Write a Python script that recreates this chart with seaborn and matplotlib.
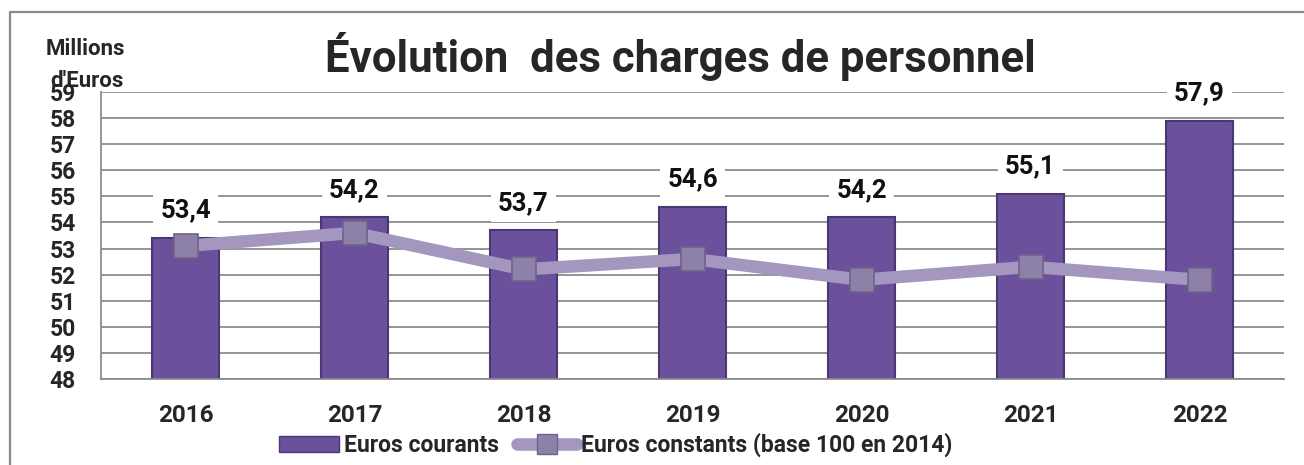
import numpy as np
import pandas as pd
import matplotlib
matplotlib.use("Agg")
import matplotlib.pyplot as plt
from matplotlib.lines import Line2D
from matplotlib.patches import Patch
import seaborn as sns

# data
years = ["2016", "2017", "2018", "2019", "2020", "2021", "2022"]
euros_courants = [53.4, 54.2, 53.7, 54.6, 54.2, 55.1, 57.9]
euros_constants = [53.1, 53.6, 52.2, 52.6, 51.8, 52.3, 51.8]
y_ticks = list(range(48, 60))

bar_color = "#6b509c"
bar_edge = "#4b3873"
line_color = "#a396bf"
marker_color = "#8d81a9"
grid_color = "#8c8c8c"

sns.set_theme(style="white")
plt.rcParams["font.family"] = ["Roboto", "DejaVu Sans"]
plt.rcParams["font.weight"] = "bold"

df = pd.DataFrame({"year": years, "courants": euros_courants,
                   "constants": euros_constants})

fig = plt.figure(figsize=(13.04, 4.65), dpi=100)
ax = fig.add_axes([101 / 1304, 1 - 379 / 465, 1183 / 1304, 287 / 465])

# bars
sns.barplot(data=df, x="year", y="courants", color=bar_color, width=0.4,
            saturation=1, edgecolor=bar_edge, linewidth=1.5, ax=ax, zorder=2)

# line with square markers
sns.pointplot(data=df, x="year", y="constants", color=line_color,
              markers="s", linestyles="-", linewidth=9, markersize=17,
              markerfacecolor=marker_color, markeredgecolor="#6e648a",
              markeredgewidth=1.2, ax=ax, zorder=3)

ax.set_ylim(48, 59)
ax.set_yticks(y_ticks)
ax.set_yticklabels([str(t) for t in y_ticks], fontsize=16.5, fontweight="bold")
ax.tick_params(axis="y", pad=37, length=0)
for lbl in ax.get_yticklabels():
    lbl.set_horizontalalignment("left")
ax.tick_params(axis="x", length=0, pad=18, labelsize=17.5)
for lbl in ax.get_xticklabels():
    lbl.set_fontweight("bold")
ax.set_xlabel("")
ax.set_ylabel("")

ax.yaxis.grid(True, color=grid_color, linewidth=1.3, zorder=0)
ax.set_axisbelow(True)
for side in ["top", "right"]:
    ax.spines[side].set_visible(False)
for side in ["left", "bottom"]:
    ax.spines[side].set_color(grid_color)
    ax.spines[side].set_linewidth(1.3)

# value labels on white boxes hiding the grid
for i, v in enumerate(euros_courants):
    ax.text(i, v + 1.05, f"{v:.1f}".replace(".", ","), ha="center",
            va="center", fontsize=18.5, fontweight="bold", color="#111111",
            zorder=5, bbox=dict(facecolor="white", edgecolor="none", pad=5))

# y unit label and title
fig.text(46 / 1304, 1 - 55 / 465, "Millions", fontsize=16,
         fontweight="bold", ha="left", va="baseline")
fig.text(50 / 1304, 1 - 87 / 465, "d'Euros", fontsize=16,
         fontweight="bold", ha="left", va="baseline")
fig.text(680 / 1304, 1 - 72 / 465, "Évolution  des charges de personnel",
         fontsize=31.5, fontweight="bold", ha="center", va="baseline")

# legend
handles = [
    Patch(facecolor=bar_color, edgecolor=bar_edge, label="Euros courants"),
    Line2D([0], [0], color=line_color, linewidth=9, marker="s",
           markersize=15, markerfacecolor=marker_color,
           markeredgecolor="#6e648a", label="Euros constants (base 100 en 2014)"),
]
fig.legend(handles=handles, loc="center", bbox_to_anchor=(616 / 1304, 1 - 445 / 465),
           ncol=2, frameon=False, handlelength=2.6,
           handletextpad=0.2, columnspacing=0.8, prop={"weight": "bold", "size": 16.5})

# outer chart border (top and left only visible)
fig.add_artist(Line2D([10 / 1304, 10 / 1304, 1], [0, 1 - 12 / 465, 1 - 12 / 465],
                      color="#8a8a8a", linewidth=1.6))

fig.savefig("out.png", dpi=100)
